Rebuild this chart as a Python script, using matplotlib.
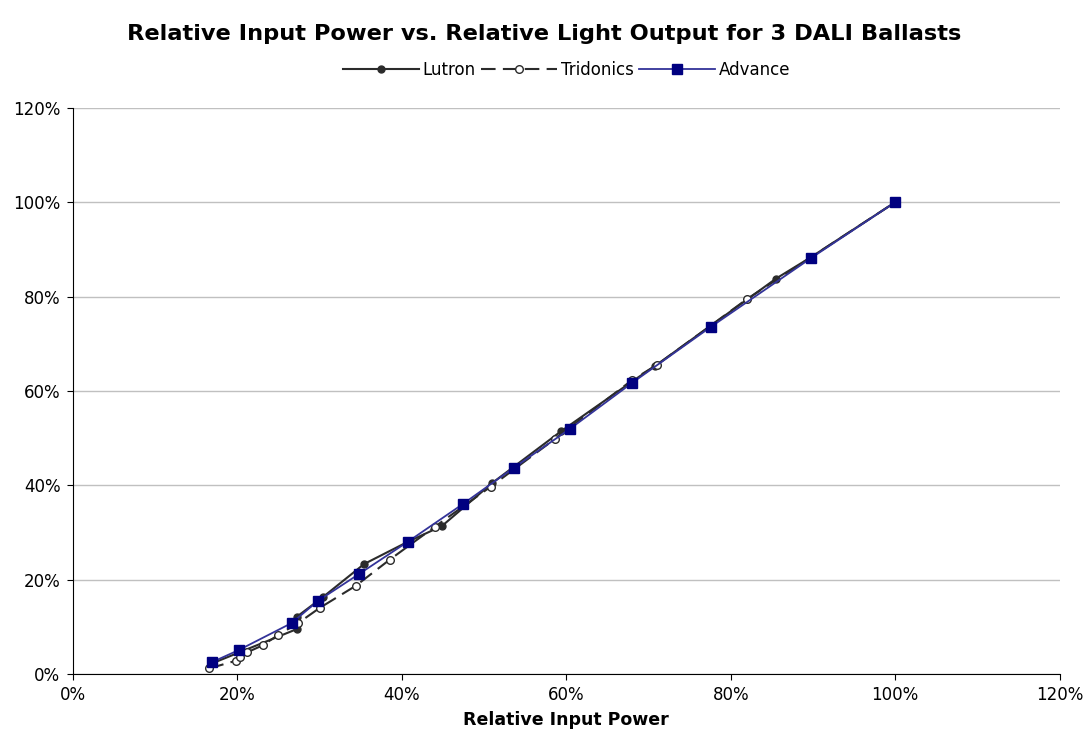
import matplotlib.pyplot as plt
from matplotlib.ticker import FuncFormatter, MultipleLocator

# Relative input power (x) vs relative light output (y), in percent
lutron_x = [17.0, 27.2, 27.2, 30.4, 35.4, 40.7, 44.9, 51.0, 59.4, 68.0, 70.8, 85.5, 89.8, 100.0]
lutron_y = [2.3, 9.5, 12.1, 16.3, 23.3, 28.0, 31.4, 40.5, 51.5, 62.0, 65.3, 83.8, 88.4, 100.0]

tridonics_x = [16.6, 19.8, 20.3, 21.2, 23.1, 24.9, 27.4, 30.0, 34.4, 38.5, 44.0, 50.8, 58.6, 68.0, 71.0, 82.0, 100.0]
tridonics_y = [1.2, 2.8, 3.6, 4.6, 6.1, 8.2, 10.8, 14.0, 18.7, 24.2, 31.2, 39.7, 49.8, 62.3, 65.5, 79.5, 100.0]

advance_x = [16.9, 20.2, 26.6, 29.8, 34.8, 40.7, 47.4, 53.6, 60.4, 68.0, 77.6, 89.8, 100.0]
advance_y = [2.5, 5.1, 10.8, 15.5, 21.2, 28.0, 36.0, 43.7, 51.9, 61.7, 73.6, 88.2, 100.0]

fig = plt.figure(figsize=(10.89, 7.4), dpi=100)
ax = fig.add_axes([0.067, 0.0892, 0.906, 0.765])

ax.plot(lutron_x, lutron_y, color='#2b2b2b', lw=1.5, marker='o', ms=5,
        mfc='#2b2b2b', mec='#2b2b2b', label='Lutron', zorder=3)
ax.plot(tridonics_x, tridonics_y, color='#2b2b2b', lw=1.5, ls=(0, (7, 3.5)), marker='o', ms=5.5,
        mfc='white', mec='#2b2b2b', mew=1, label='Tridonics', zorder=4)
ax.plot(advance_x, advance_y, color='#333399', lw=1.3, marker='s', ms=7,
        mfc='#000080', mec='#000080', label='Advance', zorder=5)

ax.set_xlim(0, 120)
ax.set_ylim(0, 120)
ax.xaxis.set_major_locator(MultipleLocator(20))
ax.yaxis.set_major_locator(MultipleLocator(20))
pct = FuncFormatter(lambda v, p: f'{v:.0f}%')
ax.xaxis.set_major_formatter(pct)
ax.yaxis.set_major_formatter(pct)
ax.tick_params(labelsize=12, direction='out', length=4, color='black', pad=5)
ax.yaxis.grid(True, color='#c0c0c0', lw=1)
ax.set_axisbelow(True)
for s in ['top', 'right']:
    ax.spines[s].set_visible(False)

ax.set_xlabel('Relative Input Power', fontsize=12.5, fontweight='bold', labelpad=5)
fig.suptitle('Relative Input Power vs. Relative Light Output for 3 DALI Ballasts',
             fontsize=16.2, fontweight='bold', x=0.5, y=0.968)
ax.legend(loc='upper center', bbox_to_anchor=(0.5, 1.11), ncol=3, frameon=False,
          fontsize=12, handlelength=4.6, handletextpad=0.2, columnspacing=0.3)

fig.savefig('out.png', dpi=100)
